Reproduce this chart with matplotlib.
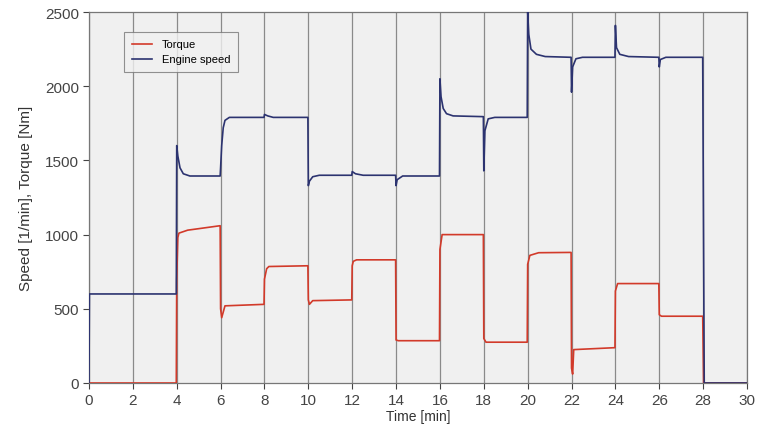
import matplotlib
matplotlib.use("Agg")
import matplotlib.pyplot as plt

# Engine speed trace [1/min]
speed_time = [0.0, 0.02, 3.98, 4.0, 4.05, 4.15, 4.3, 4.6, 5.98, 6.0, 6.05, 6.12, 6.2, 6.4, 7.98,
              8.0, 8.15, 8.4, 9.98, 10.0, 10.05, 10.2, 10.5, 11.98, 12.0, 12.15, 12.5, 13.98,
              14.0, 14.05, 14.3, 15.98, 16.0, 16.05, 16.15, 16.3, 16.6, 17.98, 18.0, 18.05,
              18.2, 18.5, 19.98, 20.0, 20.05, 20.15, 20.4, 20.8, 21.98, 22.0, 22.05, 22.2,
              22.5, 23.98, 24.0, 24.05, 24.2, 24.6, 25.98, 26.0, 26.05, 26.3, 27.98, 28.05, 30.0]
speed_vals = [0, 600, 600, 1600, 1530, 1450, 1410, 1395, 1395, 1450, 1600, 1720, 1770, 1790, 1790,
              1810, 1800, 1790, 1790, 1330, 1360, 1390, 1400, 1400, 1425, 1410, 1400, 1400,
              1330, 1370, 1395, 1395, 2050, 1930, 1850, 1815, 1800, 1795, 1430, 1700,
              1780, 1790, 1790, 2500, 2350, 2250, 2215, 2200, 2195, 1960, 2130, 2185,
              2195, 2195, 2410, 2260, 2215, 2200, 2195, 2130, 2180, 2195, 2195, 0, 0]

# Torque trace [Nm]
torque_time = [0.0, 3.98, 4.0, 4.05, 4.1, 4.5, 5.0, 5.98, 6.0, 6.05, 6.2, 7.98, 8.0, 8.1, 8.2,
               9.98, 10.0, 10.05, 10.2, 11.98, 12.0, 12.05, 12.2, 13.98, 14.0, 14.1, 15.98, 16.0,
               16.1, 17.98, 18.0, 18.1, 19.98, 20.0, 20.1, 20.5, 21.98, 22.0, 22.05, 22.1,
               23.98, 24.0, 24.1, 25.98, 26.0, 26.1, 27.98, 28.02, 30.0]
torque_vals = [0, 0, 700, 980, 1010, 1030, 1040, 1060, 500, 440, 520, 530, 700, 770, 785,
               790, 560, 530, 555, 560, 790, 820, 830, 830, 290, 285, 285, 900,
               1000, 1000, 300, 275, 275, 800, 860, 878, 880, 100, 60, 225,
               238, 620, 670, 670, 460, 450, 450, 0, 0]

x_ticks = list(range(0, 31, 2))
y_ticks = [0, 500, 1000, 1500, 2000, 2500]

plt.rcParams['font.family'] = ['Liberation Sans', 'DejaVu Sans']

fig = plt.figure(figsize=(7.58, 4.39), dpi=100)
ax = fig.add_axes([0.1174, 0.1253, 0.8681, 0.8450])
ax.set_facecolor('#f0f0f0')

ax.plot(torque_time, torque_vals, color='#d23a2a', lw=1.2, label='Torque', zorder=3)
ax.plot(speed_time, speed_vals, color='#2c3370', lw=1.2, label='Engine speed', zorder=4)

ax.set_xlim(0, 30)
ax.set_ylim(0, 2500)
ax.set_xticks(x_ticks)
ax.set_yticks(y_ticks)
ax.tick_params(axis='both', labelsize=11, colors='#444444', length=4, width=0.8, pad=3)
ax.xaxis.grid(True, color='#8a8a8a', lw=0.9)
ax.yaxis.grid(False)
for s in ax.spines.values():
    s.set_color('#777777')
    s.set_linewidth(0.9)

ax.set_xlabel('Time [min]', fontsize=10, color='#333333', labelpad=2)
ax.set_ylabel('Speed [1/min], Torque [Nm]', fontsize=11, color='#333333', labelpad=9)

leg = ax.legend(loc='upper left', bbox_to_anchor=(0.053, 0.947), fontsize=8,
                frameon=True, fancybox=False, edgecolor='#777777', facecolor='#f0f0f0',
                handlelength=1.8, handletextpad=0.9, borderpad=0.7, labelspacing=0.45,
                borderaxespad=0)
leg.get_frame().set_linewidth(0.8)

fig.savefig('out.png', dpi=100, facecolor='white')
